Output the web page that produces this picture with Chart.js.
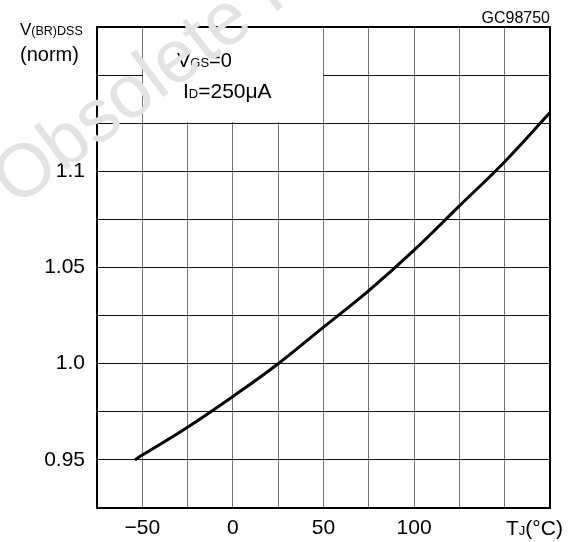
<!DOCTYPE html>
<html>
<head>
<meta charset="utf-8">
<script src="https://cdn.jsdelivr.net/npm/chart.js@4.4.0/dist/chart.umd.min.js"></script>
<style>
html, body { margin: 0; padding: 0; background: #fff; }
</style>
</head>
<body>
<canvas id="bvChart" width="571" height="542"></canvas>
<script>
// normalized breakdown voltage vs junction temperature
var tempC = [-54, -50, -25, 0, 25, 50, 75, 100, 125, 150, 175];
var vNorm = [0.950, 0.9525, 0.967, 0.983, 1.000, 1.019, 1.038, 1.059, 1.082, 1.105, 1.1305];

// only some grid lines carry a label
var xLabelVals = [-50, 0, 50, 100];
var xLabelText = ['\u221250', '0', '50', '100'];
var yLabelVals = [0.95, 1.0, 1.05, 1.1];
var yLabelText = ['0.95', '1.0', '1.05', '1.1'];

var FONT = 'Liberation Sans, Arial, sans-serif';

function findLabel(vals, texts, v) {
    for (var i = 0; i < vals.length; i++) {
        if (Math.abs(vals[i] - v) < 1e-6) return texts[i];
    }
    return '';
}

// draws text with a smaller subscript part, returns end x
function drawSub(ctx, x, y, parts) {
    parts.forEach(function (p) {
        ctx.font = p[1] + 'px ' + FONT;
        ctx.fillText(p[0], x, y);
        x += ctx.measureText(p[0]).width;
    });
    return x;
}

var decorPlugin = {
    id: 'decor',
    afterDraw: function (chart) {
        var ctx = chart.ctx, a = chart.chartArea, xs = chart.scales.x, ys = chart.scales.y;
        ctx.save();

        // clear the cells behind the test-condition note
        var l = Math.round(xs.getPixelForValue(-50)) + 1;
        var r = Math.round(xs.getPixelForValue(50)) - 1;
        var t = Math.round(ys.getPixelForValue(1.175)) + 1;
        var b = Math.round(ys.getPixelForValue(1.125)) - 1;
        ctx.fillStyle = '#fff';
        ctx.fillRect(l, t, r - l, b - t);

        // frame
        ctx.strokeStyle = '#000';
        ctx.lineWidth = 2;
        ctx.strokeRect(a.left, a.top, a.right - a.left, a.bottom - a.top);

        ctx.fillStyle = '#000';
        ctx.textBaseline = 'alphabetic';
        ctx.textAlign = 'left';

        // y axis title
        drawSub(ctx, 20, 35, [['V', 17], ['(BR)DSS', 12.5]]);
        ctx.font = '20px ' + FONT;
        ctx.fillText('(norm)', 20, 61);

        // x axis title
        drawSub(ctx, Math.round(xs.getPixelForValue(150)) + 1, 535, [['T', 21], ['J', 13], ['(\u00b0C)', 21]]);

        // test conditions
        drawSub(ctx, 177, 67, [['V', 20], ['GS', 13], ['=0', 20]]);
        drawSub(ctx, 183, 98, [['I', 21], ['D', 13], ['=250\u03bcA', 21]]);

        // figure code
        ctx.textAlign = 'right';
        ctx.font = '16px ' + FONT;
        ctx.fillText('GC98750', 550, 23);

        // watermark
        ctx.textAlign = 'left';
        ctx.translate(16, 208);
        ctx.rotate(-37 * Math.PI / 180);
        ctx.font = '75px ' + FONT;
        ctx.fillStyle = '#e3e3e3';
        ctx.fillText('Obsolete Product(s)', 0, 0);
        ctx.restore();
    }
};

var ctx = document.getElementById('bvChart').getContext('2d');
var bvChart = new Chart(ctx, {
    type: 'line',
    data: {
        datasets: [{
            data: tempC.map(function (t, i) { return { x: t, y: vNorm[i] }; }),
            borderColor: '#000',
            borderWidth: 3,
            pointRadius: 0,
            fill: false,
            tension: 0.4
        }]
    },
    options: {
        responsive: false,
        animation: false,
        devicePixelRatio: 1,
        layout: { padding: { top: 27, right: 21, left: 0, bottom: 0 } },
        plugins: {
            legend: { display: false },
            tooltip: { enabled: false }
        },
        scales: {
            x: {
                type: 'linear',
                min: -75,
                max: 175,
                afterFit: function (s) { s.height = 34; },
                border: { display: false },
                grid: { color: '#777', lineWidth: 1, drawTicks: false },
                ticks: {
                    stepSize: 25,
                    autoSkip: false,
                    maxRotation: 0,
                    padding: 8,
                    color: '#000',
                    font: { family: FONT, size: 21 },
                    callback: function (v) { return findLabel(xLabelVals, xLabelText, v); }
                }
            },
            y: {
                min: 0.925,
                max: 1.175,
                afterFit: function (s) { s.width = 97; },
                border: { display: false },
                grid: { color: '#111', lineWidth: 1, drawTicks: false },
                ticks: {
                    stepSize: 0.025,
                    autoSkip: false,
                    padding: 12,
                    color: '#000',
                    font: { family: FONT, size: 21 },
                    callback: function (v) { return findLabel(yLabelVals, yLabelText, v); }
                }
            }
        }
    },
    plugins: [decorPlugin]
});
</script>
</body>
</html>
